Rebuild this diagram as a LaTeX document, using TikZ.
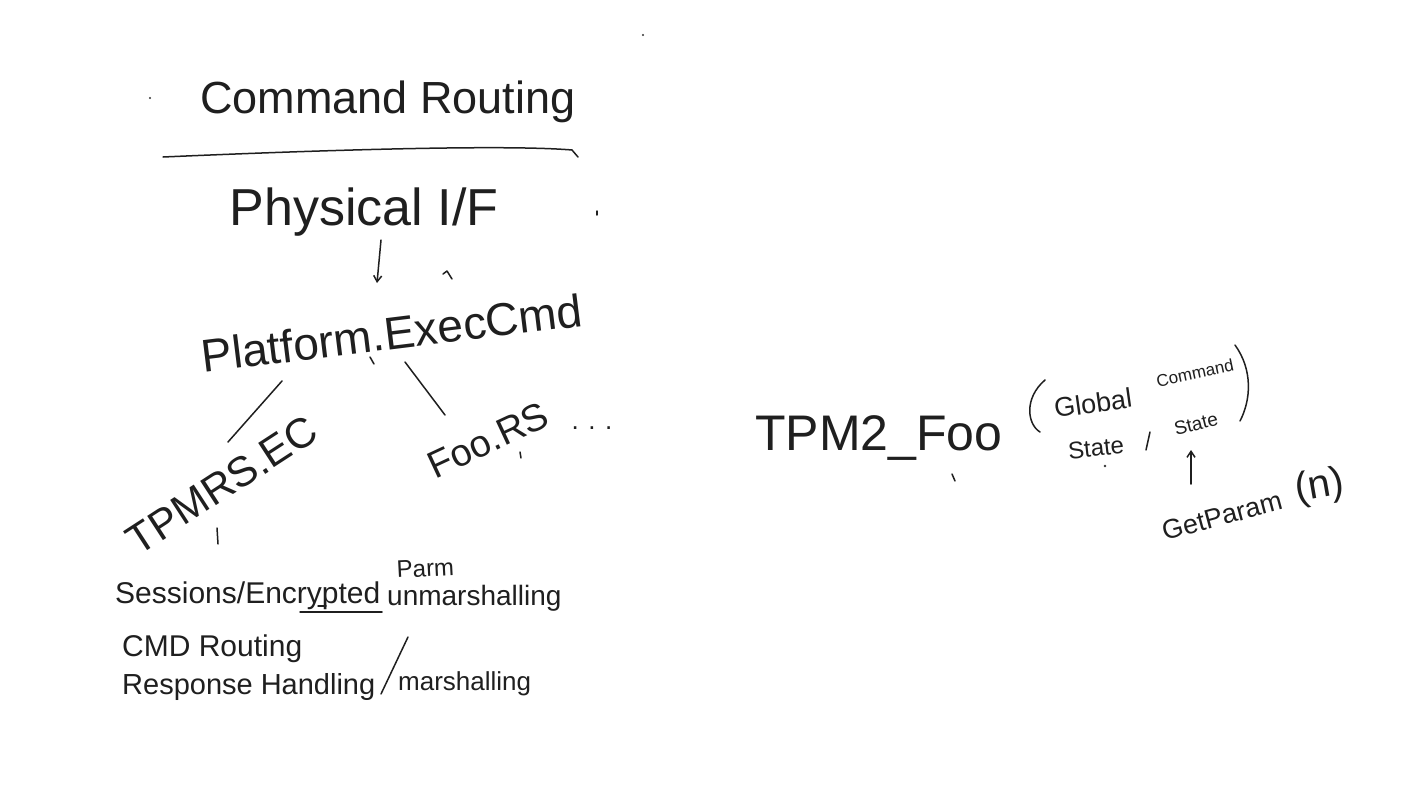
\documentclass[tikz,border=0pt]{standalone}
\usepackage{fontspec}
\setmainfont{Liberation Sans}
\usetikzlibrary{arrows.meta}
\newcommand\hwfs[1]{\fontsize{#1}{#1}\selectfont}
\tikzset{
  ink/.style={draw=black!88, line width=1.5pt, line cap=round, line join=round},
  hw/.style={inner sep=0pt, text=black!88},
  inkarrow/.style={ink, -{Straight Barb[length=6pt,width=8pt]}},
}
\begin{document}
\begin{tikzpicture}[x=1pt,y=-1pt]
\path[fill=white, use as bounding box] (0,0) rectangle (1422,800);

% title
\node[hw, font=\hwfs{45}] (title) at (388,102) {Command Routing};
\coordinate (ulA) at (163,157);
\coordinate (ulB) at (578,157);
\draw[ink] (ulA) .. controls (300,151) and (500,144) .. (572,150) -- (ulB);

% physical I/F
\node[hw, font=\hwfs{52}] (phys) at (364,212) {Physical I/F};
\coordinate (pa1) at (381,240);
\coordinate (pa2) at (377,283);
\draw[inkarrow] (pa1) -- (pa2);
\coordinate (ca) at (447,271);
\draw[ink] ([shift={(-4,3)}]ca) -- (ca) -- ([shift={(5,8)}]ca);

% platform
\node[hw, font=\hwfs{46}, rotate=7] (plat) at (392,333) {Platform.ExecCmd};

% branches
\coordinate (b1a) at (282,381);
\coordinate (b1b) at (228,442);
\coordinate (b2a) at (405,362);
\coordinate (b2b) at (445,415);
\draw[ink] (b1a) -- (b1b);
\draw[ink] (b2a) -- (b2b);

\node[hw, font=\hwfs{42}, rotate=33] (tpmrs) at (222,485) {TPMRS.EC};
\node[hw, font=\hwfs{38}, rotate=25] (foo) at (488,440) {Foo.RS};
\node[hw, font=\hwfs{26}] (dots) at (592,428) {. . .};

% list
\node[hw, font=\hwfs{30}, anchor=base west] (sess) at (115,603) {Sessions/Encrypted};
\node[hw, font=\hwfs{24}, anchor=base west, rotate=3] (parm) at (397,578) {Parm};
\coordinate (su1) at (300,612);
\coordinate (su2) at (382,612);
\draw[ink] (su1) -- (su2);
\coordinate (sd) at (318,606);
\draw[ink] (sd) -- ([shift={(8,0)}]sd);
\node[hw, font=\hwfs{28}, anchor=base west] (unm) at (387,605) {unmarshalling};
\node[hw, font=\hwfs{30}, anchor=base west] (cmdr) at (122,656) {CMD Routing};
\node[hw, font=\hwfs{29}, anchor=base west] (resp) at (122,694) {Response Handling};
\coordinate (sl1) at (408,637);
\coordinate (sl2) at (381,694);
\draw[ink] (sl1) -- (sl2);
\node[hw, font=\hwfs{26}, anchor=base west] (marsh) at (398,690) {marshalling};

% right side
\node[hw, font=\hwfs{50}, anchor=base west] (tpm2) at (755,450) {TPM2\_Foo};
\coordinate (lp) at (1045,380);
\draw[ink] (lp) .. controls (1024,398) and (1027,424) .. (1040,432);
\node[hw, font=\hwfs{27}, rotate=8] (glob) at (1093,403) {Global};
\node[hw, font=\hwfs{17}, rotate=12] (comm) at (1195,373) {Command};
\coordinate (rp) at (1235,345);
\draw[ink] (rp) .. controls (1253,370) and (1251,400) .. (1240,421);
\node[hw, font=\hwfs{24}, rotate=6] (st1) at (1096,448) {State};
\coordinate (cm) at (1150,432);
\draw[ink] (cm) -- ([shift={(-4,18)}]cm);
\node[hw, font=\hwfs{19}, rotate=14] (st2) at (1196,424) {State};
\node[hw, font=\hwfs{27}, rotate=15] (gp) at (1222,516) {GetParam};
\node[hw, font=\hwfs{40}, rotate=10] (gpn) at (1320,487) {(n)};
\coordinate (ga1) at (1191,484);
\coordinate (ga2) at (1191,450);
\draw[inkarrow] (ga1) -- (ga2);

% stray marks
\coordinate (m1) at (150,98);
\fill[black!80] (m1) circle (1.2);
\coordinate (m2) at (643,35);
\fill[black!80] (m2) circle (1.2);
\coordinate (m3) at (597,211);
\draw[ink] (m3) -- ([shift={(0,4)}]m3);
\coordinate (m4) at (370,357);
\draw[ink] (m4) -- ([shift={(4,7)}]m4);
\coordinate (m5) at (217,528);
\draw[ink] (m5) -- ([shift={(1,16)}]m5);
\coordinate (m6) at (520,452);
\draw[ink] (m6) -- ([shift={(1,6)}]m6);
\coordinate (m7) at (952,474);
\draw[ink] (m7) -- ([shift={(3,7)}]m7);
\coordinate (m8) at (1105,466);
\fill[black!80] (m8) circle (1.3);
\end{tikzpicture}
\end{document}
